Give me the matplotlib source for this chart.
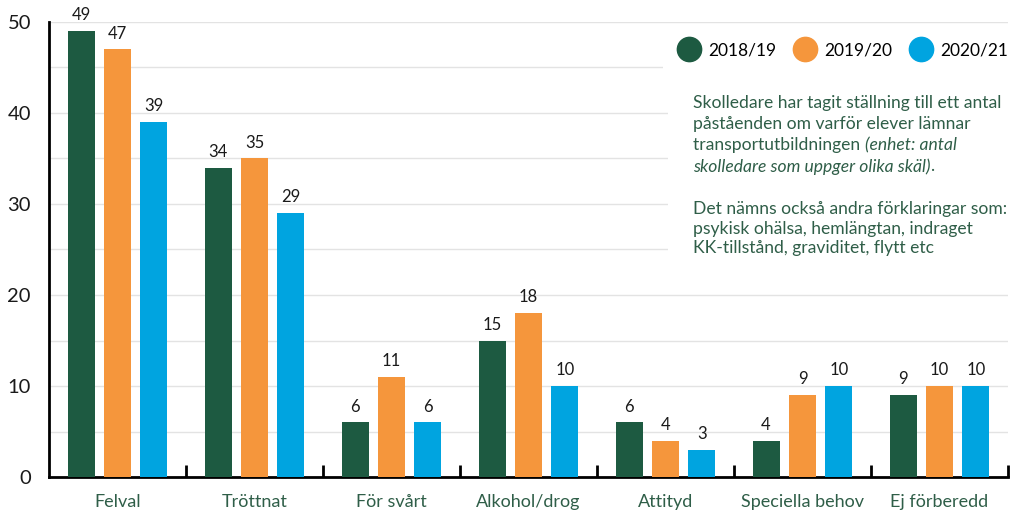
import numpy as np
import matplotlib
matplotlib.use('Agg')
import matplotlib.pyplot as plt
from matplotlib.lines import Line2D
from matplotlib.patches import Rectangle

# data
categories = ['Felval', 'Tröttnat', 'För svårt', 'Alkohol/drog', 'Attityd',
              'Speciella behov', 'Ej förberedd']
years = ['2018/19', '2019/20', '2020/21']
v_1819 = [49, 34, 6, 15, 6, 4, 9]
v_1920 = [47, 35, 11, 18, 4, 9, 10]
v_2021 = [39, 29, 6, 10, 3, 10, 10]

COLORS = ['#1d5a41', '#f5963c', '#00a4e0']
TEXT_GREEN = '#2f5e48'

plt.rcParams['font.family'] = ['Lato', 'DejaVu Sans']

fig = plt.figure(figsize=(10.12, 5.11), dpi=100)
ax = fig.add_axes([49 / 1012, 1 - 477 / 511, 959 / 1012, 455 / 511])

x = np.arange(len(categories))
width = 0.197
offset = 0.266
for i, (vals, col) in enumerate(zip([v_1819, v_1920, v_2021], COLORS)):
    bars = ax.bar(x + (i - 1) * offset, vals, width, color=col, zorder=3)
    for b, v in zip(bars, vals):
        ax.text(b.get_x() + b.get_width() / 2, v + 0.85, str(v),
                ha='center', va='bottom', fontsize=12, color='#1a1a1a', zorder=4)

ax.set_xlim(-0.5, len(categories) - 0.5)
ax.set_ylim(0, 50)

# gridlines every 5, labels every 10
for yv in np.arange(5, 51, 5):
    ax.axhline(yv, color='#e3e3e3', lw=1, zorder=1)
ax.set_yticks(np.arange(0, 51, 10))
ax.set_yticklabels([str(v) for v in range(0, 51, 10)], fontsize=14.5, color='#1a1a1a')
ax.tick_params(axis='y', length=0, pad=13)

# group boundary ticks pointing up
ax.set_xticks(np.arange(0.5, len(categories), 1.0))
ax.set_xticklabels([])
ax.set_xticks(x, minor=True)
ax.set_xticklabels(categories, minor=True, fontsize=13, color=TEXT_GREEN)
ax.tick_params(axis='x', which='major', direction='in', length=9, width=2, color='black')
ax.tick_params(axis='x', which='minor', length=0, pad=12)

for s in ['top', 'right']:
    ax.spines[s].set_visible(False)
ax.spines['left'].set_linewidth(2)
ax.spines['bottom'].set_linewidth(2)

# white areas over gridlines for legend and note
ax.add_patch(Rectangle((0.64, 0.855), 0.40, 0.09, transform=ax.transAxes,
                       facecolor='white', edgecolor='none', zorder=2))
ax.add_patch(Rectangle((0.645, 0.46), 0.40, 0.365, transform=ax.transAxes,
                       facecolor='white', edgecolor='none', zorder=2))

handles = [Line2D([], [], marker='o', ls='', markersize=17.5, color=c) for c in COLORS]
leg = ax.legend(handles, years, ncol=3, loc='upper right', bbox_to_anchor=(1.016, 0.99),
                frameon=False, fontsize=12.5, handletextpad=0.5, columnspacing=1.05,
                handlelength=1.2)
leg.set_zorder(5)

fs = 12.6
tx0 = (693 - 49) / 959
ax.text(tx0, 1 - (95 - 22) / 455, 'Skolledare har tagit ställning till ett antal',
        transform=ax.transAxes, fontsize=fs, color=TEXT_GREEN, va='top', zorder=5)
ax.text(tx0, 1 - (116 - 22) / 455, 'påståenden om varför elever lämnar',
        transform=ax.transAxes, fontsize=fs, color=TEXT_GREEN, va='top', zorder=5)
t = ax.text(tx0, 1 - (137 - 22) / 455, 'transportutbildningen ',
            transform=ax.transAxes, fontsize=fs, color=TEXT_GREEN, va='top', zorder=5)
ax.annotate('(enhet: antal', xy=(1, 1), xycoords=t, va='top', ha='left',
            fontsize=fs, color=TEXT_GREEN, style='italic', zorder=5)
t2 = ax.text(tx0, 1 - (158 - 22) / 455, 'skolledare som uppger olika skäl)',
             transform=ax.transAxes, fontsize=fs, color=TEXT_GREEN, va='top',
             style='italic', zorder=5)
ax.annotate('.', xy=(1, 1), xycoords=t2, va='top', ha='left',
            fontsize=fs, color=TEXT_GREEN, zorder=5)
ax.text(tx0, 1 - (201 - 22) / 455,
        'Det nämns också andra förklaringar som:\n'
        'psykisk ohälsa, hemlängtan, indraget\n'
        'KK-tillstånd, graviditet, flytt etc',
        transform=ax.transAxes, fontsize=fs, color=TEXT_GREEN, va='top',
        linespacing=1.28, zorder=5)

fig.savefig('out.png', dpi=100)
